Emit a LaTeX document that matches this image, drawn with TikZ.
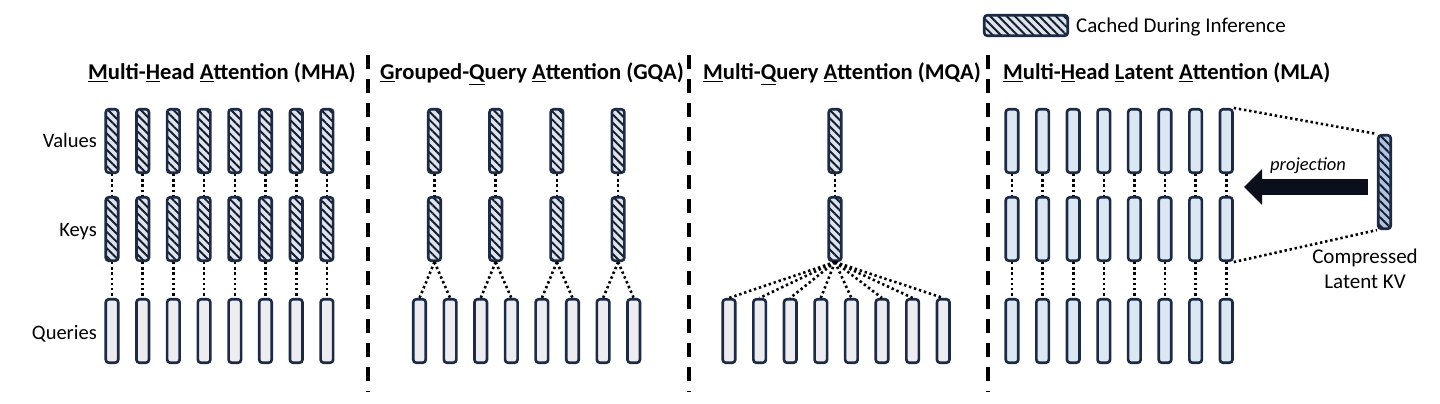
\documentclass[tikz,border=0pt]{standalone}
\usepackage{fontspec}
\setmainfont{Carlito}
\usepackage{xcolor}
\definecolor{cEdge}{HTML}{1C2A44}
\definecolor{cStripe}{HTML}{141A26}
\definecolor{cHatch}{HTML}{DDE4EF}
\definecolor{cLatent}{HTML}{AFC4E2}
\definecolor{cQuery}{HTML}{EDEDF1}
\definecolor{cHead}{HTML}{DCE7F4}
\definecolor{cArrow}{HTML}{0B0F1C}
\usepackage{tikz}
\usetikzlibrary{positioning,arrows.meta,patterns.meta}
\newcommand{\ulet}[1]{\underline{#1}}
\tikzset{
  bar/.style={draw=cEdge,line width=2.6pt,rounded corners=3pt,
    minimum width=12.5pt,minimum height=63.5pt,inner sep=0pt},
  bar-cached/.style={bar,preaction={fill=cHatch},
    pattern={Lines[angle=-45,distance=5.8pt,line width=1.9pt]},pattern color=cStripe},
  bar-query/.style={bar,fill=cQuery},
  bar-head/.style={bar,fill=cHead},
  bar-latent/.style={bar,minimum height=93.5pt,preaction={fill=cLatent},
    pattern={Lines[angle=-45,distance=5.8pt,line width=1.9pt]},pattern color=cStripe},
  link-dotted/.style={line width=2.6pt,dash pattern=on 2.4pt off 2.8pt,draw=black},
  sep-line/.style={line width=3.2pt,dash pattern=on 14pt off 10pt,draw=black},
  title-text/.style={anchor=base west,font=\fontsize{22.6}{26}\selectfont\bfseries,inner sep=0pt},
  row-label/.style={anchor=base east,font=\fontsize{20.5}{24}\selectfont,inner sep=0pt},
  arrow-proj/.style={-{Triangle[length=18pt,width=36pt,line width=0pt]},line width=16pt,draw=cArrow},
}
\begin{document}
\begin{tikzpicture}[x=1pt,y=-1pt]
  \useasboundingbox (0,0) rectangle (1440,404);
  % legend
  \node[bar-cached,minimum width=83.5pt,minimum height=20.5pt] (legend) at (1026,25.5) {};
  \node[anchor=base west,font=\fontsize{21}{24}\selectfont,inner sep=0pt] (legend-txt) at (1076,33) {Cached During Inference};

  % titles
  \node[title-text] (t-mha) at (88,80)   {\ulet{M}ulti-\ulet{H}ead \ulet{A}ttention (MHA)};
  \node[title-text] (t-gqa) at (380,80)  {\ulet{G}rouped-\ulet{Q}uery \ulet{A}ttention (GQA)};
  \node[title-text] (t-mqa) at (703,80)  {\ulet{M}ulti-\ulet{Q}uery \ulet{A}ttention (MQA)};
  \node[title-text] (t-mla) at (1003,80) {\ulet{M}ulti-\ulet{H}ead \ulet{L}atent \ulet{A}ttention (MLA)};

  % row labels
  \node[row-label] (l-v) at (97,147) {Values};
  \node[row-label] (l-k) at (97,236) {Keys};
  \node[row-label] (l-q) at (97,339) {Queries};

  % separators
  \draw[sep-line] (368,55) -- (368,392);
  \draw[sep-line] (689,55) -- (689,392);
  \draw[sep-line] (988,55) -- (988,392);

  % MHA
  \foreach \i [evaluate=\i as \x using 112+30.7*(\i-1)] in {1,...,8}{
    \node[bar-cached] (mha-v\i) at (\x,141) {};
    \node[bar-cached] (mha-k\i) at (\x,229) {};
    \node[bar-query]  (mha-q\i) at (\x,331) {};
    \draw[link-dotted] (mha-v\i) -- (mha-k\i);
    \draw[link-dotted] (mha-k\i) -- (mha-q\i);
  }

  % GQA
  \foreach \i [evaluate=\i as \x using 419.5+30.6*(\i-1)] in {1,...,8}
    \node[bar-query] (gqa-q\i) at (\x,331) {};
  \foreach \j [evaluate=\j as \x using 434.5+61.2*(\j-1),
               evaluate=\j as \a using int(2*\j-1),
               evaluate=\j as \b using int(2*\j)] in {1,...,4}{
    \node[bar-cached] (gqa-v\j) at (\x,141) {};
    \node[bar-cached] (gqa-k\j) at (\x,229) {};
    \draw[link-dotted] (gqa-v\j) -- (gqa-k\j);
    \draw[link-dotted] (gqa-k\j.south) -- (gqa-q\a.north);
    \draw[link-dotted] (gqa-k\j.south) -- (gqa-q\b.north);
  }

  % MQA
  \node[bar-cached] (mqa-v) at (835,141) {};
  \node[bar-cached] (mqa-k) at (835,229) {};
  \draw[link-dotted] (mqa-v) -- (mqa-k);
  \foreach \i [evaluate=\i as \x using 729+30.6*(\i-1)] in {1,...,8}{
    \node[bar-query] (mqa-q\i) at (\x,331) {};
    \draw[link-dotted] (mqa-k.south) -- (mqa-q\i.north);
  }

  % MLA
  \foreach \i [evaluate=\i as \x using 1012+30.6*(\i-1)] in {1,...,8}{
    \node[bar-head] (mla-v\i) at (\x,141) {};
    \node[bar-head] (mla-k\i) at (\x,229) {};
    \node[bar-head] (mla-q\i) at (\x,331) {};
    \draw[link-dotted] (mla-v\i) -- (mla-k\i);
    \draw[link-dotted] (mla-k\i) -- (mla-q\i);
  }
  \node[bar-latent] (latent) at (1384.5,182) {};
  \draw[link-dotted] (mla-v8.north east) -- (latent.north west);
  \draw[link-dotted] (mla-k8.south east) -- (latent.south west);
  \coordinate (proj-tip) at (1244,187);
  \draw[arrow-proj] ([xshift=-9pt,yshift=-5pt]latent.west) -- (proj-tip);
  \node[anchor=base,font=\fontsize{18.5}{22}\selectfont\itshape,inner sep=0pt] (proj-txt) at (1308,170) {projection};
  \node[align=center,font=\fontsize{21}{24.5}\selectfont,inner sep=0pt,anchor=base] (latent-txt) at (1365,288) {Compressed\\Latent KV};
\end{tikzpicture}
\end{document}
